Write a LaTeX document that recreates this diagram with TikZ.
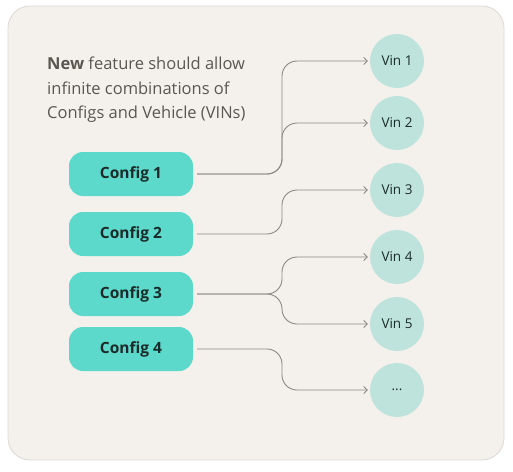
\documentclass[tikz,border=0pt]{standalone}
\usepackage{fontspec}
\setmainfont{Open Sans}
\usetikzlibrary{positioning,arrows.meta}

\definecolor{panelbg}{HTML}{F4F1EC}
\definecolor{panelline}{HTML}{DCD9D4}
\definecolor{configbg}{HTML}{5DD9CB}
\definecolor{vinbg}{HTML}{BEE3DD}
\definecolor{wiregray}{HTML}{8C8782}
\definecolor{notegray}{HTML}{5B5650}
\definecolor{labeldark}{HTML}{1C2B29}

\tikzset{
  config/.style={rounded corners=14pt, fill=configbg, minimum width=124pt, minimum height=44pt,
    inner sep=0pt, text=labeldark, font=\fontsize{15.5}{18}\selectfont\bfseries},
  vin/.style={circle, fill=vinbg, minimum size=54pt, inner sep=0pt, text=labeldark,
    font=\fontsize{13.5}{16}\selectfont},
  wire/.style={draw=wiregray, line width=0.9pt, rounded corners=15pt, -{Straight Barb[length=3.5pt,width=7pt]}}
}

\begin{document}
\begin{tikzpicture}[x=1pt, y=-1pt]
\useasboundingbox (0,0) rectangle (513,471);

% panel
\draw [panelline, fill=panelbg, rounded corners=22pt, line width=0.8pt] (8,6) rectangle (504,460);

\node [anchor=north west, align=left, inner sep=0pt, text=notegray,
       font=\fontsize{16.5}{24.5}\selectfont] (note) at (47,57)
  {\textbf{New} feature should allow\\infinite combinations of\\Configs and Vehicle (VINs)};

% configs
\node [config] (c1) at (131,174) {Config 1};
\node [config] (c2) at (131,234) {Config 2};
\node [config] (c3) at (131,294) {Config 3};
\node [config] (c4) at (131,349) {Config 4};

% vins
\node [vin] (v1) at (397,61)  {Vin 1};
\node [vin] (v2) at (397,123) {Vin 2};
\node [vin] (v3) at (397,190) {Vin 3};
\node [vin] (v4) at (397,257) {Vin 4};
\node [vin] (v5) at (397,324) {Vin 5};
\node [vin] (vmore) at (397,390) {...};

% wires
\draw [wire, shorten >=2pt] (c1.east) ++(4,0) -- (282,174) -- (282,61)  -- (v1.west);
\draw [wire, shorten >=2pt] (c1.east) ++(4,0) -- (282,174) -- (282,123) -- (v2.west);
\draw [wire, shorten >=2pt] (c2.east) ++(4,0) -- (282,234) -- (282,190) -- (v3.west);
\draw [wire, shorten >=2pt] (c3.east) ++(4,0) -- (282,294) -- (282,257) -- (v4.west);
\draw [wire, shorten >=2pt] (c3.east) ++(4,0) -- (282,294) -- (282,324) -- (v5.west);
\draw [wire, shorten >=2pt] (c4.east) ++(4,0) -- (282,349) -- (282,390) -- (vmore.west);
\end{tikzpicture}
\end{document}
